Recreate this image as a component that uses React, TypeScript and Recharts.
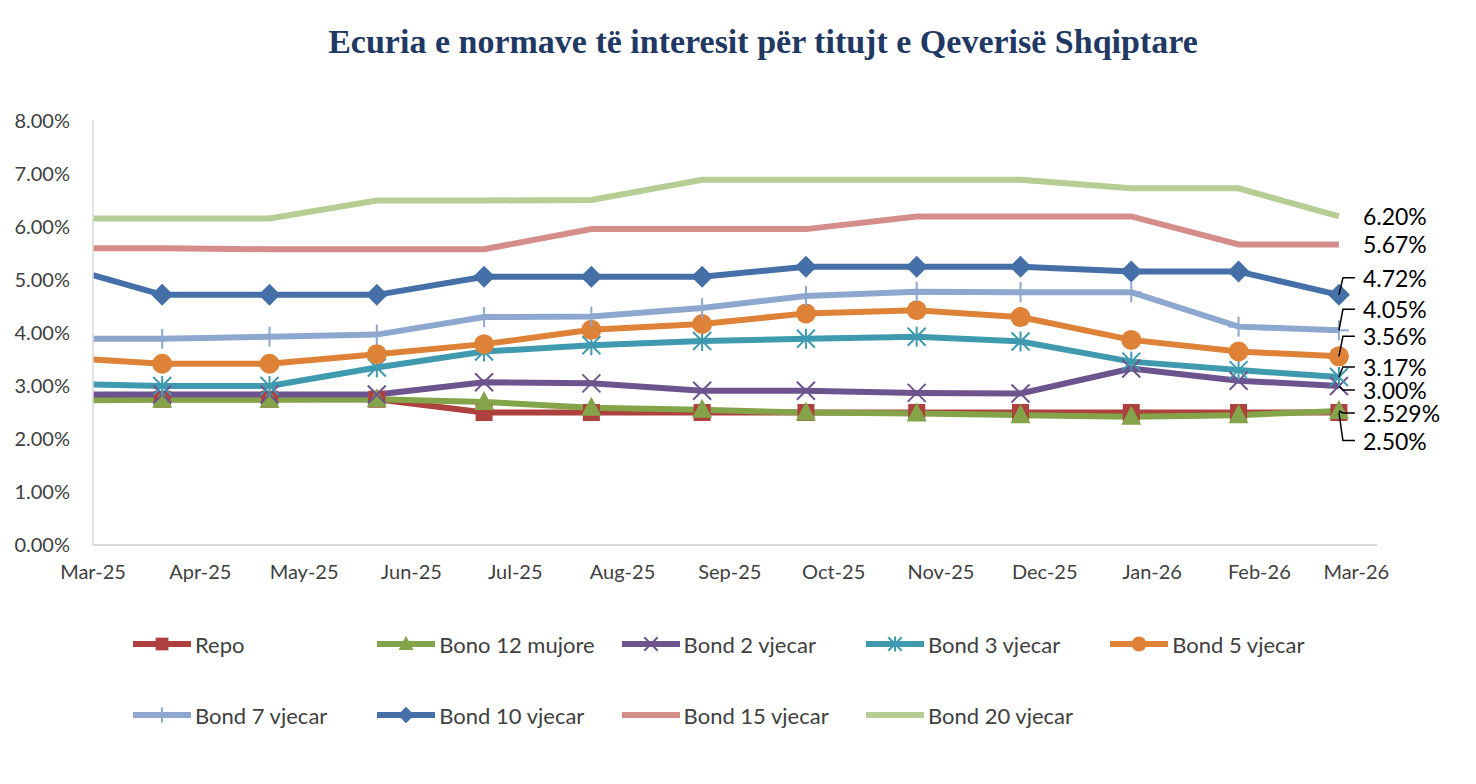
import React from "react"
import { LineChart, Line, XAxis, YAxis, LabelList } from "recharts"

// observation dates (auction dates), first one sits on the axis start
const dates = [
  "2025-03-01", "2025-03-21", "2025-04-21", "2025-05-22", "2025-06-22", "2025-07-23", "2025-08-24",
  "2025-09-23", "2025-10-25", "2025-11-24", "2025-12-26", "2026-01-26", "2026-02-24",
]
const monthTicks = [
  "2025-03-01", "2025-04-01", "2025-05-01", "2025-06-01", "2025-07-01", "2025-08-01", "2025-09-01",
  "2025-10-01", "2025-11-01", "2025-12-01", "2026-01-01", "2026-02-01", "2026-03-01",
]
const yTicks = [0, 1, 2, 3, 4, 5, 6, 7, 8]

const repo = [2.75, 2.75, 2.75, 2.75, 2.5, 2.5, 2.5, 2.5, 2.5, 2.5, 2.5, 2.5, 2.5]
const bono12 = [2.73, 2.74, 2.74, 2.75, 2.7, 2.59, 2.55, 2.5, 2.48, 2.45, 2.42, 2.45, 2.529]
const bond2 = [2.84, 2.84, 2.84, 2.84, 3.07, 3.05, 2.91, 2.91, 2.87, 2.86, 3.33, 3.1, 3.0]
const bond3 = [3.03, 3.0, 3.0, 3.35, 3.65, 3.77, 3.85, 3.89, 3.93, 3.84, 3.46, 3.3, 3.17]
const bond5 = [3.5, 3.42, 3.42, 3.6, 3.79, 4.06, 4.17, 4.37, 4.43, 4.3, 3.87, 3.65, 3.56]
const bond7 = [3.89, 3.89, 3.93, 3.97, 4.3, 4.31, 4.47, 4.7, 4.78, 4.77, 4.77, 4.12, 4.05]
const bond10 = [5.09, 4.72, 4.72, 4.72, 5.06, 5.06, 5.06, 5.25, 5.25, 5.25, 5.16, 5.16, 4.72]
const bond15 = [5.6, 5.6, 5.58, 5.58, 5.58, 5.96, 5.96, 5.96, 6.2, 6.2, 6.2, 5.67, 5.67]
const bond20 = [6.16, 6.16, 6.16, 6.5, 6.5, 6.51, 6.89, 6.89, 6.89, 6.89, 6.73, 6.73, 6.2]

const DAY = 86400000
const START = Date.UTC(2025, 2, 1)
const MONTHS = ["Jan", "Feb", "Mar", "Apr", "May", "Jun", "Jul", "Aug", "Sep", "Oct", "Nov", "Dec"]
const toDay = (iso: string) => {
  const [y, m, d] = iso.split("-").map(Number)
  return Math.round((Date.UTC(y, m - 1, d) - START) / DAY)
}
const fmtMonth = (day: number) => {
  const dt = new Date(START + day * DAY)
  return `${MONTHS[dt.getUTCMonth()]}-${String(dt.getUTCFullYear()).slice(2)}`
}
const fmtPct = (v: number) => {
  const r = Math.round(v * 1000) / 1000
  return (Math.round(r * 100) === r * 100 ? r.toFixed(2) : r.toFixed(3)) + "%"
}

const rows = dates.map((d, i) => ({
  day: toDay(d),
  repo: repo[i],
  bono12: bono12[i],
  bond2: bond2[i],
  bond3: bond3[i],
  bond5: bond5[i],
  bond7: bond7[i],
  bond10: bond10[i],
  bond15: bond15[i],
  bond20: bond20[i],
}))
const LAST = rows.length - 1

type Marker = "square" | "triangle" | "x" | "star" | "circle" | "plus" | "diamond" | "none"

const series: { key: string; name: string; color: string; marker: Marker; dy: number; leader: boolean }[] = [
  { key: "repo", name: "Repo", color: "#AE413D", marker: "square", dy: 28, leader: true },
  { key: "bono12", name: "Bono 12 mujore", color: "#84A44A", marker: "triangle", dy: 2, leader: true },
  { key: "bond2", name: "Bond 2 vjecar", color: "#6D548E", marker: "x", dy: 4, leader: true },
  { key: "bond3", name: "Bond 3 vjecar", color: "#3F9AAF", marker: "star", dy: -10, leader: true },
  { key: "bond5", name: "Bond 5 vjecar", color: "#DD8236", marker: "circle", dy: -20, leader: true },
  { key: "bond7", name: "Bond 7 vjecar", color: "#8EA7CF", marker: "plus", dy: -21, leader: true },
  { key: "bond10", name: "Bond 10 vjecar", color: "#4470A7", marker: "diamond", dy: -17, leader: true },
  { key: "bond15", name: "Bond 15 vjecar", color: "#D48D8B", marker: "none", dy: 0, leader: false },
  { key: "bond20", name: "Bond 20 vjecar", color: "#B6CD94", marker: "none", dy: 0, leader: false },
]

const FONT = "Lato, 'Open Sans', sans-serif"
const AXIS_GREY = "#d9d9d9"
const TEXT_GREY = "#404040"

function MarkerShape({ kind, cx, cy, color, s = 1 }: { kind: Marker; cx: number; cy: number; color: string; s?: number }) {
  switch (kind) {
    case "square":
      return <rect x={cx - 8.5 * s} y={cy - 8.5 * s} width={17 * s} height={17 * s} fill={color} />
    case "triangle":
      return <polygon points={`${cx},${cy - 11 * s} ${cx + 10 * s},${cy + 8 * s} ${cx - 10 * s},${cy + 8 * s}`} fill={color} />
    case "x":
      return (
        <g stroke={color} strokeWidth={2}>
          <line x1={cx - 9 * s} y1={cy - 9 * s} x2={cx + 9 * s} y2={cy + 9 * s} />
          <line x1={cx - 9 * s} y1={cy + 9 * s} x2={cx + 9 * s} y2={cy - 9 * s} />
        </g>
      )
    case "star":
      return (
        <g stroke={color} strokeWidth={2}>
          <line x1={cx - 9 * s} y1={cy - 9 * s} x2={cx + 9 * s} y2={cy + 9 * s} />
          <line x1={cx - 9 * s} y1={cy + 9 * s} x2={cx + 9 * s} y2={cy - 9 * s} />
          <line x1={cx} y1={cy - 10 * s} x2={cx} y2={cy + 10 * s} />
        </g>
      )
    case "circle":
      return <circle cx={cx} cy={cy} r={10 * s} fill={color} />
    case "plus":
      return (
        <g stroke={color} strokeWidth={2}>
          <line x1={cx} y1={cy - 10 * s} x2={cx} y2={cy + 10 * s} />
          <line x1={cx - 10 * s} y1={cy} x2={cx + 10 * s} y2={cy} />
        </g>
      )
    case "diamond":
      return <polygon points={`${cx},${cy - 11 * s} ${cx + 11 * s},${cy} ${cx},${cy + 11 * s} ${cx - 11 * s},${cy}`} fill={color} />
    default:
      return null
  }
}

const makeDot = (kind: Marker, color: string) => (props: any) => {
  const { cx, cy, index } = props
  if (index === 0 || cx == null || cy == null) return <g key={`d-${index}`} />
  return (
    <g key={`d-${index}`}>
      <MarkerShape kind={kind} cx={cx} cy={cy} color={color} />
    </g>
  )
}

const makeEndLabel = (dy: number, leader: boolean) => (props: any) => {
  const { x, y, value, index } = props
  if (index !== LAST || x == null || y == null) return null
  const ly = y + dy
  return (
    <g>
      {leader && (
        <polyline points={`${x},${y} ${x + 4},${ly} ${x + 16},${ly}`} fill="none" stroke="#000" strokeWidth={1.5} />
      )}
      <text x={x + 24} y={ly} dominantBaseline="central" fontFamily={FONT} fontSize={23} fill="#000">
        {fmtPct(Number(value))}
      </text>
    </g>
  )
}

function LegendGrid() {
  return (
    <div style={{ position: "absolute", left: 125, top: 614, fontFamily: FONT, fontSize: 22, color: TEXT_GREY }}>
      {[series.slice(0, 5), series.slice(5)].map((row, r) => (
        <div key={r} style={{ display: "flex", height: 71, alignItems: "flex-start" }}>
          {row.map((s) => (
            <div key={s.key} style={{ width: 244.3, display: "flex", alignItems: "center", height: 44 }}>
              <svg width={58} height={24} style={{ marginRight: 4 }}>
                <line x1={1} y1={12} x2={57} y2={12} stroke={s.color} strokeWidth={6} strokeLinecap="round" />
                <MarkerShape kind={s.marker} cx={29} cy={12} color={s.color} s={0.75} />
              </svg>
              <span>{s.name}</span>
            </div>
          ))}
        </div>
      ))}
    </div>
  )
}

export default function App() {
  return (
    <div style={{ position: "relative", width: 1460, height: 776 }}>
      <div
        style={{
          position: "absolute",
          left: -1,
          top: -12,
          width: 1461,
          height: 800,
          border: `1px solid ${AXIS_GREY}`,
        }}
      />
      <div
        style={{
          position: "absolute",
          left: 0,
          top: 15,
          width: 1510,
          textAlign: "center",
          fontFamily: "'Liberation Serif', serif",
          fontWeight: "bold",
          fontSize: 34,
          color: "#1F3864",
        }}
      >
        Ecuria e normave të interesit për titujt e Qeverisë Shqiptare
      </div>
      <div style={{ position: "absolute", left: 0, top: 0 }}>
        <LineChart width={1460} height={600} data={rows} margin={{ top: 113, right: 91, bottom: 23, left: 0 }}>
          <XAxis
            dataKey="day"
            type="number"
            domain={[0, 371]}
            ticks={monthTicks.map(toDay)}
            tickFormatter={fmtMonth}
            interval={0}
            height={40}
            tickLine={false}
            tickSize={0}
            tickMargin={20}
            axisLine={{ stroke: AXIS_GREY, strokeWidth: 2 }}
            tick={{ fontFamily: FONT, fontSize: 20, fill: TEXT_GREY }}
          />
          <YAxis
            domain={[0, 8]}
            ticks={yTicks}
            tickFormatter={(v: number) => `${v.toFixed(2)}%`}
            width={85}
            tickLine={false}
            tickSize={0}
            tickMargin={23}
            axisLine={{ stroke: AXIS_GREY, strokeWidth: 1.5 }}
            tick={{ fontFamily: FONT, fontSize: 20, fill: TEXT_GREY }}
          />
          {series.map((s) => (
            <Line
              key={s.key}
              dataKey={s.key}
              name={s.name}
              type="linear"
              stroke={s.color}
              strokeWidth={6}
              dot={s.marker === "none" ? false : makeDot(s.marker, s.color)}
              activeDot={false}
              isAnimationActive={false}
            >
              <LabelList dataKey={s.key} content={makeEndLabel(s.dy, s.leader)} />
            </Line>
          ))}
        </LineChart>
      </div>
      <LegendGrid />
    </div>
  )
}
